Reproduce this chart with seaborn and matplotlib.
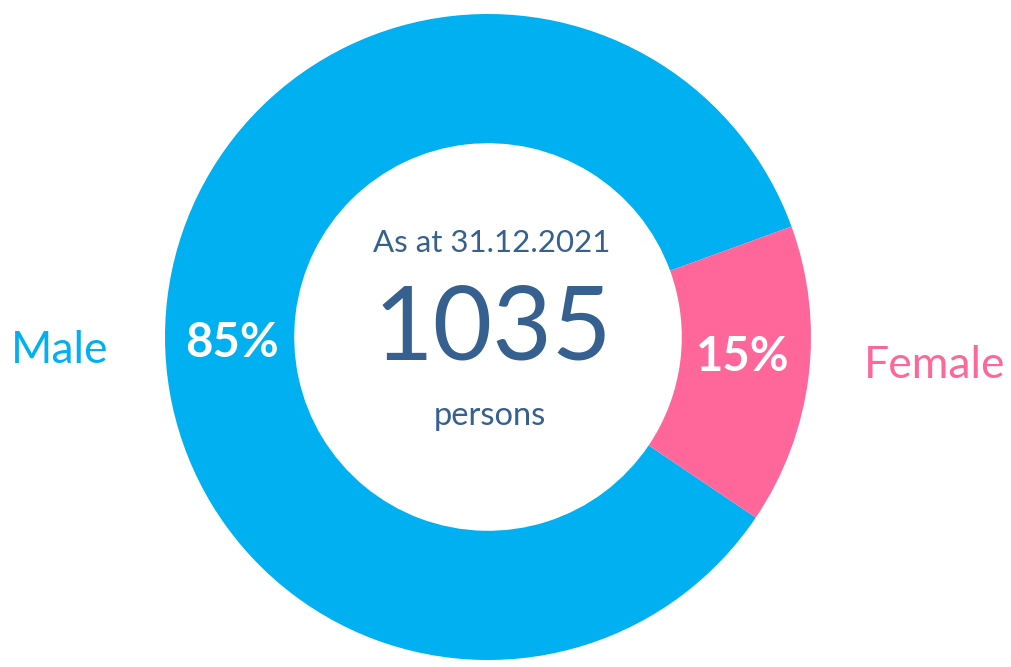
import matplotlib
matplotlib.use("Agg")
import matplotlib.pyplot as plt
import seaborn as sns

# Data
genders = ["Male", "Female"]
shares = [85, 15]
total_persons = 1035
date_label = "As at 31.12.2021"
unit_label = "persons"

colors = ["#00B0F0", "#FF6699"]
text_color = "#36608F"

sns.set_theme(style="white")
plt.rcParams["font.family"] = ["Lato", "DejaVu Sans"]

fig = plt.figure(figsize=(10.12, 6.67), dpi=100)
ax = fig.add_axes([0, 0, 1, 1])

cx, cy, r = 488, 330, 323
ax.pie(shares, colors=colors, startangle=20, counterclock=True,
       center=(cx, cy), radius=r, frame=True,
       wedgeprops=dict(width=r * 0.4, edgecolor="none"))
ax.set_xlim(0, 1012)
ax.set_ylim(0, 667)
ax.set_aspect("equal")
ax.axis("off")

# Percent labels inside the ring
ax.text(232, 667 - 343, f"{shares[0]}%", color="white", fontsize=34,
        fontweight="bold", ha="center", va="center")
ax.text(743, 667 - 357, f"{shares[1]}%", color="white", fontsize=34,
        fontweight="bold", ha="center", va="center")

# Category labels outside
ax.text(60, 667 - 350, genders[0], color=colors[0], fontsize=32,
        ha="center", va="center")
ax.text(935, 667 - 365, genders[1], color=colors[1], fontsize=32,
        ha="center", va="center")

# Centre text
ax.text(492, 667 - 243, date_label, color=text_color, fontsize=22.5,
        ha="center", va="center")
ax.text(493, 667 - 330, str(total_persons), color=text_color, fontsize=74,
        ha="center", va="center")
ax.text(490, 667 - 416, unit_label, color=text_color, fontsize=23.5,
        ha="center", va="center")

fig.savefig("out.png", dpi=100, facecolor="white")
